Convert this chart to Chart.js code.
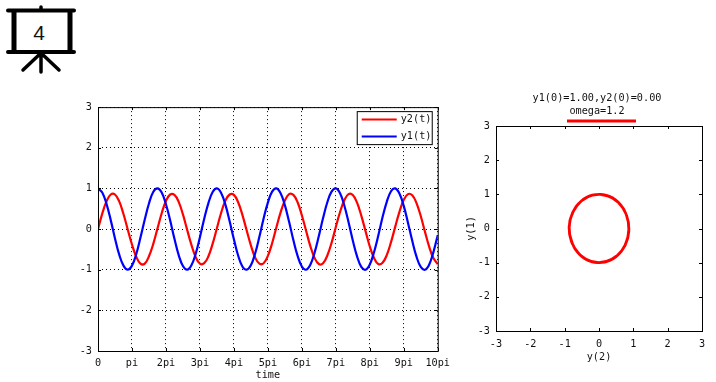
<!DOCTYPE html>
<html>
<head>
<meta charset="utf-8">
<title>y1 y2 omega</title>
<script src="https://cdn.jsdelivr.net/npm/chart.js@4/dist/chart.umd.min.js"></script>
<style>
    html, body { margin: 0; padding: 0; background: #fff; }
    body { width: 716px; height: 382px; position: relative; overflow: hidden; }
    canvas { position: absolute; }
    #cTiempo { left: 40px; top: 95px; }
    #cFase { left: 456px; top: 90px; }
    #icono { position: absolute; left: 0; top: 0; }
</style>
</head>
<body>
<svg id="icono" width="80" height="80" viewBox="0 0 80 80">
    <g stroke="#000" stroke-linecap="round" fill="none">
        <path d="M8 10.5H74M8 52H74" stroke-width="4"/>
        <path d="M14 10.5V52M70 10.5V52" stroke-width="5" stroke-linecap="butt"/>
        <path d="M41 7V10M41 53V72M41 53L23 70M41 53L59 70" stroke-width="3.5"/>
    </g>
    <text x="39" y="39.5" font-family="Liberation Sans" font-size="21" text-anchor="middle" fill="#111">4</text>
</svg>
<canvas id="cTiempo" width="416" height="287"></canvas>
<canvas id="cFase" width="284" height="273"></canvas>
<script>
// t en unidades de pi, cada 0.125
const tiempo = [
    0,0.125,0.25,0.375,0.5,0.625,0.75,0.875,1,1.125,1.25,1.375,1.5,1.625,1.75,1.875,
    2,2.125,2.25,2.375,2.5,2.625,2.75,2.875,3,3.125,3.25,3.375,3.5,3.625,3.75,3.875,
    4,4.125,4.25,4.375,4.5,4.625,4.75,4.875,5,5.125,5.25,5.375,5.5,5.625,5.75,5.875,
    6,6.125,6.25,6.375,6.5,6.625,6.75,6.875,7,7.125,7.25,7.375,7.5,7.625,7.75,7.875,
    8,8.125,8.25,8.375,8.5,8.625,8.75,8.875,9,9.125,9.25,9.375,9.5,9.625,9.75,9.875,10
];
const y1Valores = [
    1.00,0.90,0.62,0.22,-0.23,-0.63,-0.90,-1.00,-0.90,-0.62,-0.21,0.23,0.63,0.91,
    1.00,0.90,0.61,0.21,-0.24,-0.64,-0.91,-1.00,-0.89,-0.61,-0.20,0.25,0.64,0.91,
    1.00,0.89,0.60,0.19,-0.25,-0.65,-0.92,-1.00,-0.89,-0.60,-0.19,0.26,0.65,0.92,
    1.00,0.88,0.59,0.18,-0.27,-0.66,-0.92,-1.00,-0.88,-0.58,-0.17,0.27,0.66,0.92,
    1.00,0.88,0.58,0.17,-0.28,-0.67,-0.93,-1.00,-0.87,-0.57,-0.16,0.29,0.67,0.93,
    1.00,0.87,0.57,0.15,-0.29,-0.68,-0.93,-1.00,-0.87,-0.56,-0.15
];
const y2Valores = [
    0.00,0.38,0.68,0.85,0.85,0.68,0.37,-0.01,-0.38,-0.68,-0.85,-0.85,-0.67,-0.37,
    0.01,0.39,0.69,0.85,0.84,0.67,0.36,-0.02,-0.39,-0.69,-0.85,-0.84,-0.67,-0.36,
    0.02,0.40,0.70,0.85,0.84,0.66,0.35,-0.03,-0.40,-0.70,-0.85,-0.84,-0.66,-0.35,
    0.04,0.41,0.70,0.86,0.84,0.66,0.34,-0.04,-0.42,-0.71,-0.86,-0.84,-0.65,-0.34,
    0.05,0.42,0.71,0.86,0.84,0.65,0.33,-0.05,-0.43,-0.71,-0.86,-0.83,-0.64,-0.32,
    0.06,0.43,0.72,0.86,0.83,0.64,0.32,-0.07,-0.44,-0.72,-0.86
];
const etiquetasPi = ['0','pi','2pi','3pi','4pi','5pi','6pi','7pi','8pi','9pi','10pi'];
const tituloFase = ['y1(0)=1.00,y2(0)=0.00','omega=1.2'];

const fuente = { family: "'DejaVu Sans Mono'", size: 10.2 };
const ROJO = 'rgb(255,0,0)';
const AZUL = 'rgb(0,0,255)';

Chart.defaults.color = '#111';
Chart.defaults.animation = false;

// marco y marcas hacia adentro, estilo gnuplot
const marcoPlugin = {
    id: 'marco',
    afterDatasetsDraw(chart) {
        const { ctx, chartArea: a, scales } = chart;
        ctx.save();
        ctx.strokeStyle = '#000';
        ctx.lineWidth = 1;
        ctx.beginPath();
        scales.x.ticks.forEach(function (t) {
            const px = Math.round(scales.x.getPixelForValue(t.value)) + 0.5;
            ctx.moveTo(px, a.top); ctx.lineTo(px, a.top + 3);
            ctx.moveTo(px, a.bottom); ctx.lineTo(px, a.bottom - 3);
        });
        scales.y.ticks.forEach(function (t) {
            const py = Math.round(scales.y.getPixelForValue(t.value)) + 0.5;
            ctx.moveTo(a.left, py); ctx.lineTo(a.left + 3, py);
            ctx.moveTo(a.right, py); ctx.lineTo(a.right - 3, py);
        });
        ctx.stroke();
        ctx.strokeRect(a.left + 0.5, a.top + 0.5, a.right - a.left, a.bottom - a.top);
        ctx.restore();
    }
};

// leyenda dentro del grafico, arriba a la derecha
const leyendaPlugin = {
    id: 'leyendaCaja',
    afterDraw(chart) {
        const { ctx, chartArea: a } = chart;
        const caja = { x: a.right - 81, y: a.top + 4, w: 75, h: 33 };
        ctx.save();
        ctx.fillStyle = '#fff';
        ctx.fillRect(caja.x, caja.y, caja.w, caja.h);
        ctx.strokeStyle = '#000';
        ctx.lineWidth = 1;
        ctx.strokeRect(caja.x + 0.5, caja.y + 0.5, caja.w, caja.h);
        ctx.font = fuente.size + 'px ' + fuente.family;
        ctx.textBaseline = 'middle';
        chart.data.datasets.forEach(function (ds, i) {
            const py = caja.y + 8.5 + i * 17;
            ctx.strokeStyle = ds.borderColor;
            ctx.lineWidth = 2;
            ctx.beginPath();
            ctx.moveTo(caja.x + 5, py);
            ctx.lineTo(caja.x + 40, py);
            ctx.stroke();
            ctx.fillStyle = '#111';
            ctx.fillText(ds.label, caja.x + 44, py);
        });
        ctx.restore();
    }
};

// titulo de dos lineas y raya roja debajo
const tituloPlugin = {
    id: 'tituloFase',
    afterDraw(chart) {
        const { ctx, chartArea: a } = chart;
        const cx = (a.left + a.right) / 2;
        ctx.save();
        ctx.font = fuente.size + 'px ' + fuente.family;
        ctx.fillStyle = '#111';
        ctx.textAlign = 'center';
        ctx.textBaseline = 'middle';
        tituloFase.forEach(function (linea, i) {
            ctx.fillText(linea, cx - 2, a.top - 28 + i * 13);
        });
        ctx.strokeStyle = chart.data.datasets[0].borderColor;
        ctx.lineWidth = 3;
        ctx.beginPath();
        ctx.moveTo(cx - 32, a.top - 5);
        ctx.lineTo(cx + 37, a.top - 5);
        ctx.stroke();
        ctx.restore();
    }
};

new Chart(document.getElementById('cTiempo'), {
    type: 'line',
    plugins: [marcoPlugin, leyendaPlugin],
    data: {
        datasets: [
            {
                label: 'y2(t)',
                data: tiempo.map((t, i) => ({ x: t, y: y2Valores[i] })),
                borderColor: ROJO,
                borderWidth: 2.2,
                pointRadius: 0,
                tension: 0.4,
                order: 2
            },
            {
                label: 'y1(t)',
                data: tiempo.map((t, i) => ({ x: t, y: y1Valores[i] })),
                borderColor: AZUL,
                borderWidth: 2.2,
                pointRadius: 0,
                tension: 0.4,
                order: 1
            }
        ]
    },
    options: {
        responsive: false,
        layout: { padding: 0 },
        plugins: { legend: { display: false }, tooltip: { enabled: false } },
        scales: {
            x: {
                type: 'linear',
                min: 0,
                max: 10,
                afterBuildTicks(scale) {
                    scale.ticks = etiquetasPi.map((_, i) => ({ value: i }));
                },
                afterFit(scale) { scale.height = 31; },
                grid: { color: '#000', lineWidth: 1, drawTicks: false },
                border: { display: false, dash: [1, 3] },
                title: { display: true, text: 'time', font: fuente, padding: { top: 0, bottom: 1 } },
                ticks: {
                    maxRotation: 0,
                    autoSkip: false,
                    padding: 6,
                    font: fuente,
                    callback: (v) => etiquetasPi[v]
                }
            },
            y: {
                min: -3,
                max: 3,
                afterFit(scale) { scale.width = 58; },
                grid: { color: '#000', lineWidth: 1, drawTicks: false },
                border: { display: false, dash: [1, 3] },
                ticks: { stepSize: 1, padding: 6, font: fuente }
            }
        }
    }
});

new Chart(document.getElementById('cFase'), {
    type: 'scatter',
    plugins: [marcoPlugin, tituloPlugin],
    data: {
        datasets: [
            {
                label: 'y(1) vs y(2)',
                data: y2Valores.map((v, i) => ({ x: v, y: y1Valores[i] })),
                showLine: true,
                borderColor: ROJO,
                borderWidth: 2.6,
                pointRadius: 0,
                tension: 0.4
            }
        ]
    },
    options: {
        responsive: false,
        layout: { padding: { left: 9, right: 38, top: 36 } },
        plugins: {
            legend: { display: false },
            tooltip: { enabled: false }
        },
        scales: {
            x: {
                type: 'linear',
                min: -3,
                max: 3,
                afterFit(scale) { scale.height = 32; },
                grid: { display: false, drawTicks: false },
                border: { display: false },
                title: { display: true, text: 'y(2)', font: fuente, padding: { top: 0, bottom: 0 } },
                ticks: { stepSize: 1, padding: 7, font: fuente, maxRotation: 0 }
            },
            y: {
                min: -3,
                max: 3,
                afterFit(scale) { scale.width = 31; },
                grid: { display: false, drawTicks: false },
                border: { display: false },
                title: { display: true, text: 'y(1)', font: fuente, padding: { top: 0, bottom: 0 } },
                ticks: { stepSize: 1, padding: 6, font: fuente }
            }
        }
    }
});
</script>
</body>
</html>
